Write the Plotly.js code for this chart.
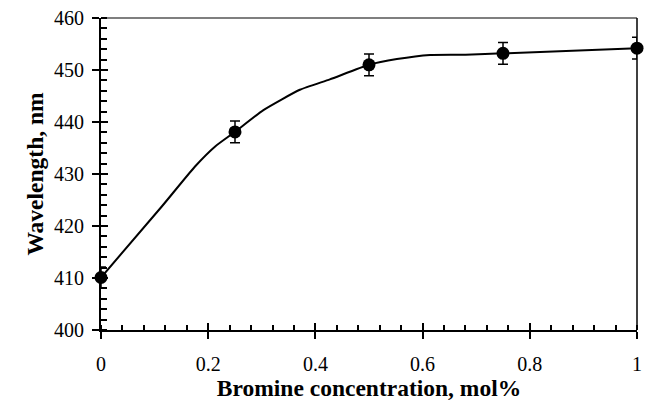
<!DOCTYPE html>
<html>
<head>
<meta charset="utf-8">
<script src="https://cdn.plot.ly/plotly-3.0.1.min.js"></script>
<style>html,body{margin:0;padding:0;background:#fff;}#chart{width:649px;height:408px;}</style>
</head>
<body>
<div id="chart"></div>
<script>
// Measured points (Bromine concentration, mol%) and wavelength (nm)
var concentration = [0, 0.25, 0.5, 0.75, 1.0];
var wavelength = [410.1, 438.1, 451.0, 453.2, 454.2];
var wavelengthErr = [2.0, 2.1, 2.1, 2.1, 2.1];

// Fitted curve
var curveX = [0, 0.113, 0.175, 0.213, 0.25, 0.303, 0.371, 0.427, 0.5, 0.552, 0.614, 0.68, 0.75, 1.0];
var curveY = [410.1, 423.7, 431.4, 435.3, 438.1, 442.3, 446.2, 448.2, 451.0, 452.1, 452.9, 452.95, 453.2, 454.2];

var xTickVals = [0, 0.2, 0.4, 0.6, 0.8, 1];
var xTickText = ['0', '0.2', '0.4', '0.6', '0.8', '1'];
var yTickVals = [400, 410, 420, 430, 440, 450, 460];
var yTickText = ['400', '410', '420', '430', '440', '450', '460'];

var FAMILY = 'Liberation Serif';

var traces = [
  {
    x: curveX, y: curveY, mode: 'lines', type: 'scatter',
    line: {color: '#000', width: 2, shape: 'spline', smoothing: 0.5},
    hoverinfo: 'skip', showlegend: false
  },
  {
    x: concentration, y: wavelength, mode: 'markers', type: 'scatter',
    marker: {color: '#000', size: 13, symbol: 'circle'},
    error_y: {type: 'data', array: wavelengthErr, visible: true, color: '#000', thickness: 1.5, width: 5},
    showlegend: false, cliponaxis: false
  },
  {x: [0], y: [400], xaxis: 'x2', yaxis: 'y2', mode: 'markers', marker: {opacity: 0}, hoverinfo: 'skip', showlegend: false}
];

var layout = {
  width: 649, height: 408,
  margin: {l: 101, r: 12, t: 18, b: 78},
  paper_bgcolor: '#fff', plot_bgcolor: '#fff',
  showlegend: false,
  font: {family: FAMILY, color: '#000', size: 20},
  xaxis: {
    range: [0, 1], tickvals: xTickVals, ticktext: xTickText,
    ticks: 'outside', ticklen: 7, tickwidth: 2, tickcolor: '#000',
    showline: true, linecolor: '#000', linewidth: 2,
    showgrid: false, zeroline: false,
    tickfont: {family: FAMILY, size: 20, color: '#000'},
    ticklabelstandoff: 8,
    minor: {dtick: 0.04, ticks: 'inside', ticklen: 5, tickwidth: 1.5, tickcolor: '#000', showgrid: false},
    title: {text: '<b>Bromine concentration, mol%</b>', font: {family: FAMILY, size: 23.5, color: '#000'}, standoff: 5}
  },
  yaxis: {
    range: [400, 460], tickvals: yTickVals, ticktext: yTickText,
    ticks: 'outside', ticklen: 7, tickwidth: 2, tickcolor: '#000',
    showline: true, linecolor: '#000', linewidth: 2,
    showgrid: false, zeroline: false,
    tickfont: {family: FAMILY, size: 20, color: '#000'},
    ticklabelstandoff: 4,
    minor: {dtick: 2, ticks: 'inside', ticklen: 6, tickwidth: 1.5, tickcolor: '#000', showgrid: false},
    title: {text: '<b>Wavelength, nm</b>', font: {family: FAMILY, size: 23.5, color: '#000'}, standoff: 4}
  },
  xaxis2: {
    overlaying: 'x', anchor: 'y', range: [0, 1], tickvals: xTickVals,
    ticks: 'inside', ticklen: 7, tickwidth: 2, tickcolor: '#000',
    showticklabels: false, showline: false, showgrid: false, zeroline: false
  },
  yaxis2: {
    overlaying: 'y', anchor: 'x', range: [400, 460], tickvals: yTickVals,
    ticks: 'inside', ticklen: 7, tickwidth: 2, tickcolor: '#000',
    showticklabels: false, showline: false, showgrid: false, zeroline: false
  },
  shapes: [
    {type: 'line', xref: 'paper', yref: 'paper', x0: 0, x1: 1, y0: 1, y1: 1, line: {color: '#000', width: 1.2}},
    {type: 'line', xref: 'paper', yref: 'paper', x0: 1, x1: 1, y0: 0, y1: 1, line: {color: '#000', width: 1.5}}
  ]
};

Plotly.newPlot('chart', traces, layout, {displayModeBar: false});
</script>
</body>
</html>
